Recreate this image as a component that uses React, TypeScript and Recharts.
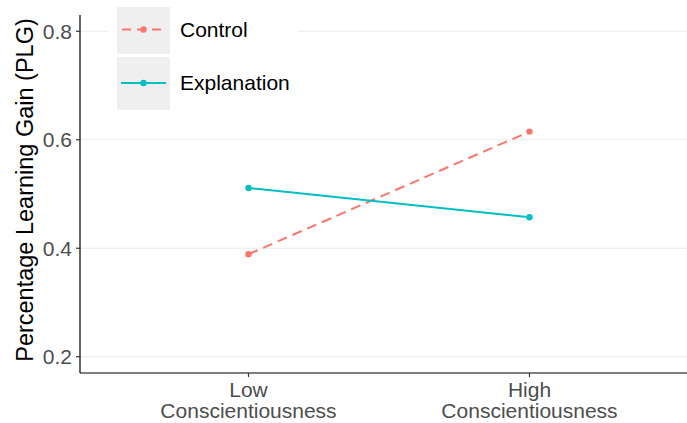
import React from "react";
import { LineChart, Line, XAxis, YAxis, CartesianGrid, Legend } from "recharts";

const levels = ["Low", "High"];
const levelSuffix = "Conscientiousness";
const controlValues = [0.389, 0.615];
const explanationValues = [0.511, 0.457];
const yTicks = [0.2, 0.4, 0.6, 0.8];
const yDomain = [0.17, 0.83];

const CONTROL = "#F8766D";
const EXPLANATION = "#00BFC4";

const data = levels.map((level, i) => ({
  level,
  Control: controlValues[i],
  Explanation: explanationValues[i],
}));

const XTick = (props: any) => {
  const { x, y, payload } = props;
  return (
    <text x={x} y={y} textAnchor="middle" fill="#4d4d4d" fontSize={21}>
      <tspan x={x} dy={16}>{payload.value}</tspan>
      <tspan x={x} dy={21}>{levelSuffix}</tspan>
    </text>
  );
};

// ggplot-style legend: grey key boxes, labels to the right
const LegendBox = (props: any) => {
  const items = props.payload || [];
  return (
    <div style={{ position: "relative", width: 190, height: 112, background: "#fff" }}>
      {items.map((item: any, i: number) => {
        const top = 6 + i * 50;
        const h = i === 0 ? 47 : 53;
        const lineY = i === 0 ? 22.5 : 26;
        const dash = item.payload?.strokeDasharray;
        return (
          <div key={item.value}>
            <svg
              width={53}
              height={h}
              style={{ position: "absolute", left: 9, top, background: "#efefef" }}
            >
              <line
                x1={4}
                x2={49}
                y1={lineY}
                y2={lineY}
                stroke={item.color}
                strokeWidth={2}
                strokeDasharray={dash ? "9 6" : undefined}
                strokeDashoffset={dash ? -1 : undefined}
              />
              <circle cx={26.5} cy={lineY} r={3.2} fill={item.color} />
            </svg>
            <div
              style={{
                position: "absolute",
                left: 72,
                top: top + lineY - 13,
                fontSize: 21,
                lineHeight: "26px",
                color: "#000",
                whiteSpace: "nowrap",
              }}
            >
              {item.value}
            </div>
          </div>
        );
      })}
    </div>
  );
};

export default function App() {
  return (
    <div
      style={{
        position: "absolute",
        left: 0,
        top: 0,
        width: 687,
        height: 423,
        overflow: "hidden",
        background: "#fff",
        fontFamily: "'Liberation Sans', Arial, Helvetica, sans-serif",
      }}
    >
      <LineChart
        width={698}
        height={423}
        data={data}
        margin={{ top: 15, right: 0, bottom: 0, left: 0 }}
      >
        <CartesianGrid
          vertical={false}
          stroke="#ebebeb"
          strokeWidth={1.2}
          horizontalValues={yTicks}
        />
        <XAxis
          dataKey="level"
          type="category"
          padding={{ left: 168.5, right: 168.5 }}
          height={50}
          tick={<XTick />}
          tickSize={4}
          tickMargin={4}
          axisLine={{ stroke: "#000", strokeWidth: 1.2 }}
          tickLine={{ stroke: "#333", strokeWidth: 1.2 }}
        />
        <YAxis
          type="number"
          domain={yDomain}
          ticks={yTicks}
          allowDataOverflow
          width={80}
          tickSize={4}
          tickMargin={4}
          tickFormatter={(v: number) => v.toFixed(1)}
          tick={{ fill: "#4d4d4d", fontSize: 21 }}
          axisLine={{ stroke: "#000", strokeWidth: 1.2 }}
          tickLine={{ stroke: "#333", strokeWidth: 1.2 }}
          label={() => (
            <text
              x={33}
              y={190}
              transform="rotate(-90, 33, 190)"
              textAnchor="middle"
              fontSize={23.5}
              fill="#000"
            >
              Percentage Learning Gain (PLG)
            </text>
          )}
        />
        <Legend
          layout="horizontal"
          verticalAlign="middle"
          align="center"
          wrapperStyle={{ position: "absolute", left: 108, top: 1, width: 190, height: 112 }}
          content={<LegendBox />}
        />
        <Line
          dataKey="Control"
          name="Control"
          stroke={CONTROL}
          strokeWidth={2}
          strokeDasharray="10 6"
          dot={{ r: 3.2, fill: CONTROL, stroke: CONTROL, strokeWidth: 0, strokeDasharray: "" }}
          activeDot={false}
          isAnimationActive={false}
        />
        <Line
          dataKey="Explanation"
          name="Explanation"
          stroke={EXPLANATION}
          strokeWidth={2}
          dot={{ r: 3.2, fill: EXPLANATION, stroke: EXPLANATION, strokeWidth: 0 }}
          activeDot={false}
          isAnimationActive={false}
        />
      </LineChart>
    </div>
  );
}
